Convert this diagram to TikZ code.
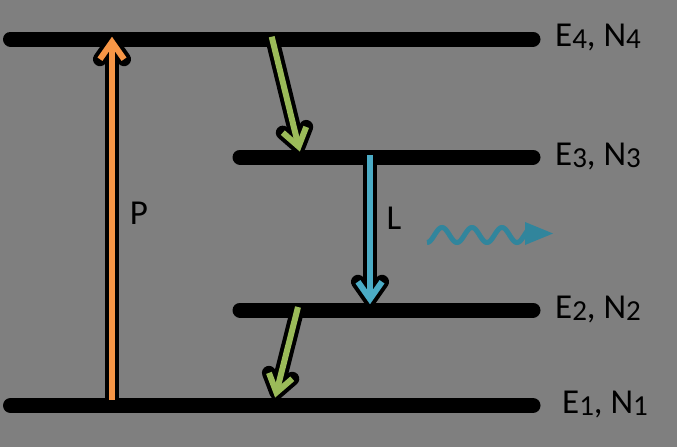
\documentclass[tikz,border=0pt]{standalone}
\usepackage{fontspec}
\setmainfont{Carlito}
\usetikzlibrary{calc}
\definecolor{bggray}{HTML}{7F7F7F}
\definecolor{porange}{HTML}{F79646}
\definecolor{dgreen}{HTML}{9BBB59}
\definecolor{lblue}{HTML}{4BACC6}
\definecolor{wteal}{HTML}{31859C}
\newcommand{\lvlsub}[1]{\raisebox{-2pt}{\fontsize{29}{29}\selectfont #1}}
\newcommand{\fatarr}[3]{%
  \draw[line width=14pt, black] (#2) -- (#3);
  \draw[line width=14pt, black, line cap=round, line join=round]
    ($(#3)!21pt!35:(#2)$) -- (#3) -- ($(#3)!21pt!-35:(#2)$);
  \draw[line width=6pt, #1] (#2) -- (#3);
  \draw[line width=6pt, #1, line join=miter, miter limit=10]
    ($(#3)!21pt!35:(#2)$) -- (#3) -- ($(#3)!21pt!-35:(#2)$);
}
\tikzset{
  level/.style={line width=15pt, line cap=round, black},
  lvllabel/.style={anchor=base west, inner sep=0pt, font=\fontsize{35}{35}\selectfont, text=black},
  arrlabel/.style={inner sep=0pt, font=\fontsize{35}{35}\selectfont, text=black},
}
\begin{document}
\begin{tikzpicture}[x=1pt,y=-1pt]
  \fill[bggray] (0,0) rectangle (677,447);
  \useasboundingbox (0,0) rectangle (677,447);
  % level end points
  \coordinate (l4a) at (10.5,39);  \coordinate (l4b) at (533,39);
  \coordinate (l3a) at (240,157);  \coordinate (l3b) at (533,157);
  \coordinate (l2a) at (240,310);  \coordinate (l2b) at (533,310);
  \coordinate (l1a) at (10.5,405.5); \coordinate (l1b) at (533,405.5);
  \draw[level] (l4a) -- (l4b);
  \draw[level] (l3a) -- (l3b);
  \draw[level] (l2a) -- (l2b);
  \draw[level] (l1a) -- (l1b);
  % labels
  \node[lvllabel] (e4) at (555,46) {E\lvlsub{4}, N\lvlsub{4}};
  \node[lvllabel] (e3) at (555,165) {E\lvlsub{3}, N\lvlsub{3}};
  \node[lvllabel] (e2) at (555,318) {E\lvlsub{2}, N\lvlsub{2}};
  \node[lvllabel] (e1) at (562,413) {E\lvlsub{1}, N\lvlsub{1}};
  % arrows
  \coordinate (ps) at (112,400); \coordinate (pt) at (112,42);
  \fatarr{porange}{ps}{pt}
  \coordinate (g1s) at (271.7,36.7); \coordinate (g1t) at (298.6,146.5);
  \fatarr{dgreen}{g1s}{g1t}
  \coordinate (g2s) at (298,307); \coordinate (g2t) at (276.4,392.5);
  \fatarr{dgreen}{g2s}{g2t}
  \coordinate (ls) at (370,155); \coordinate (lt) at (370,299);
  \fatarr{lblue}{ls}{lt}
  \node[arrlabel] (P) at (139,213.5) {P};
  \node[arrlabel] (L) at (394,218.5) {L};
  % photon
  \draw[wteal, line width=5pt] plot[domain=427:527, samples=120] (\x,{235+7.5*cos(12*(\x-427))});
  \fill[wteal] (525,222) -- (553,233.5) -- (525,245) -- cycle;
\end{tikzpicture}
\end{document}
